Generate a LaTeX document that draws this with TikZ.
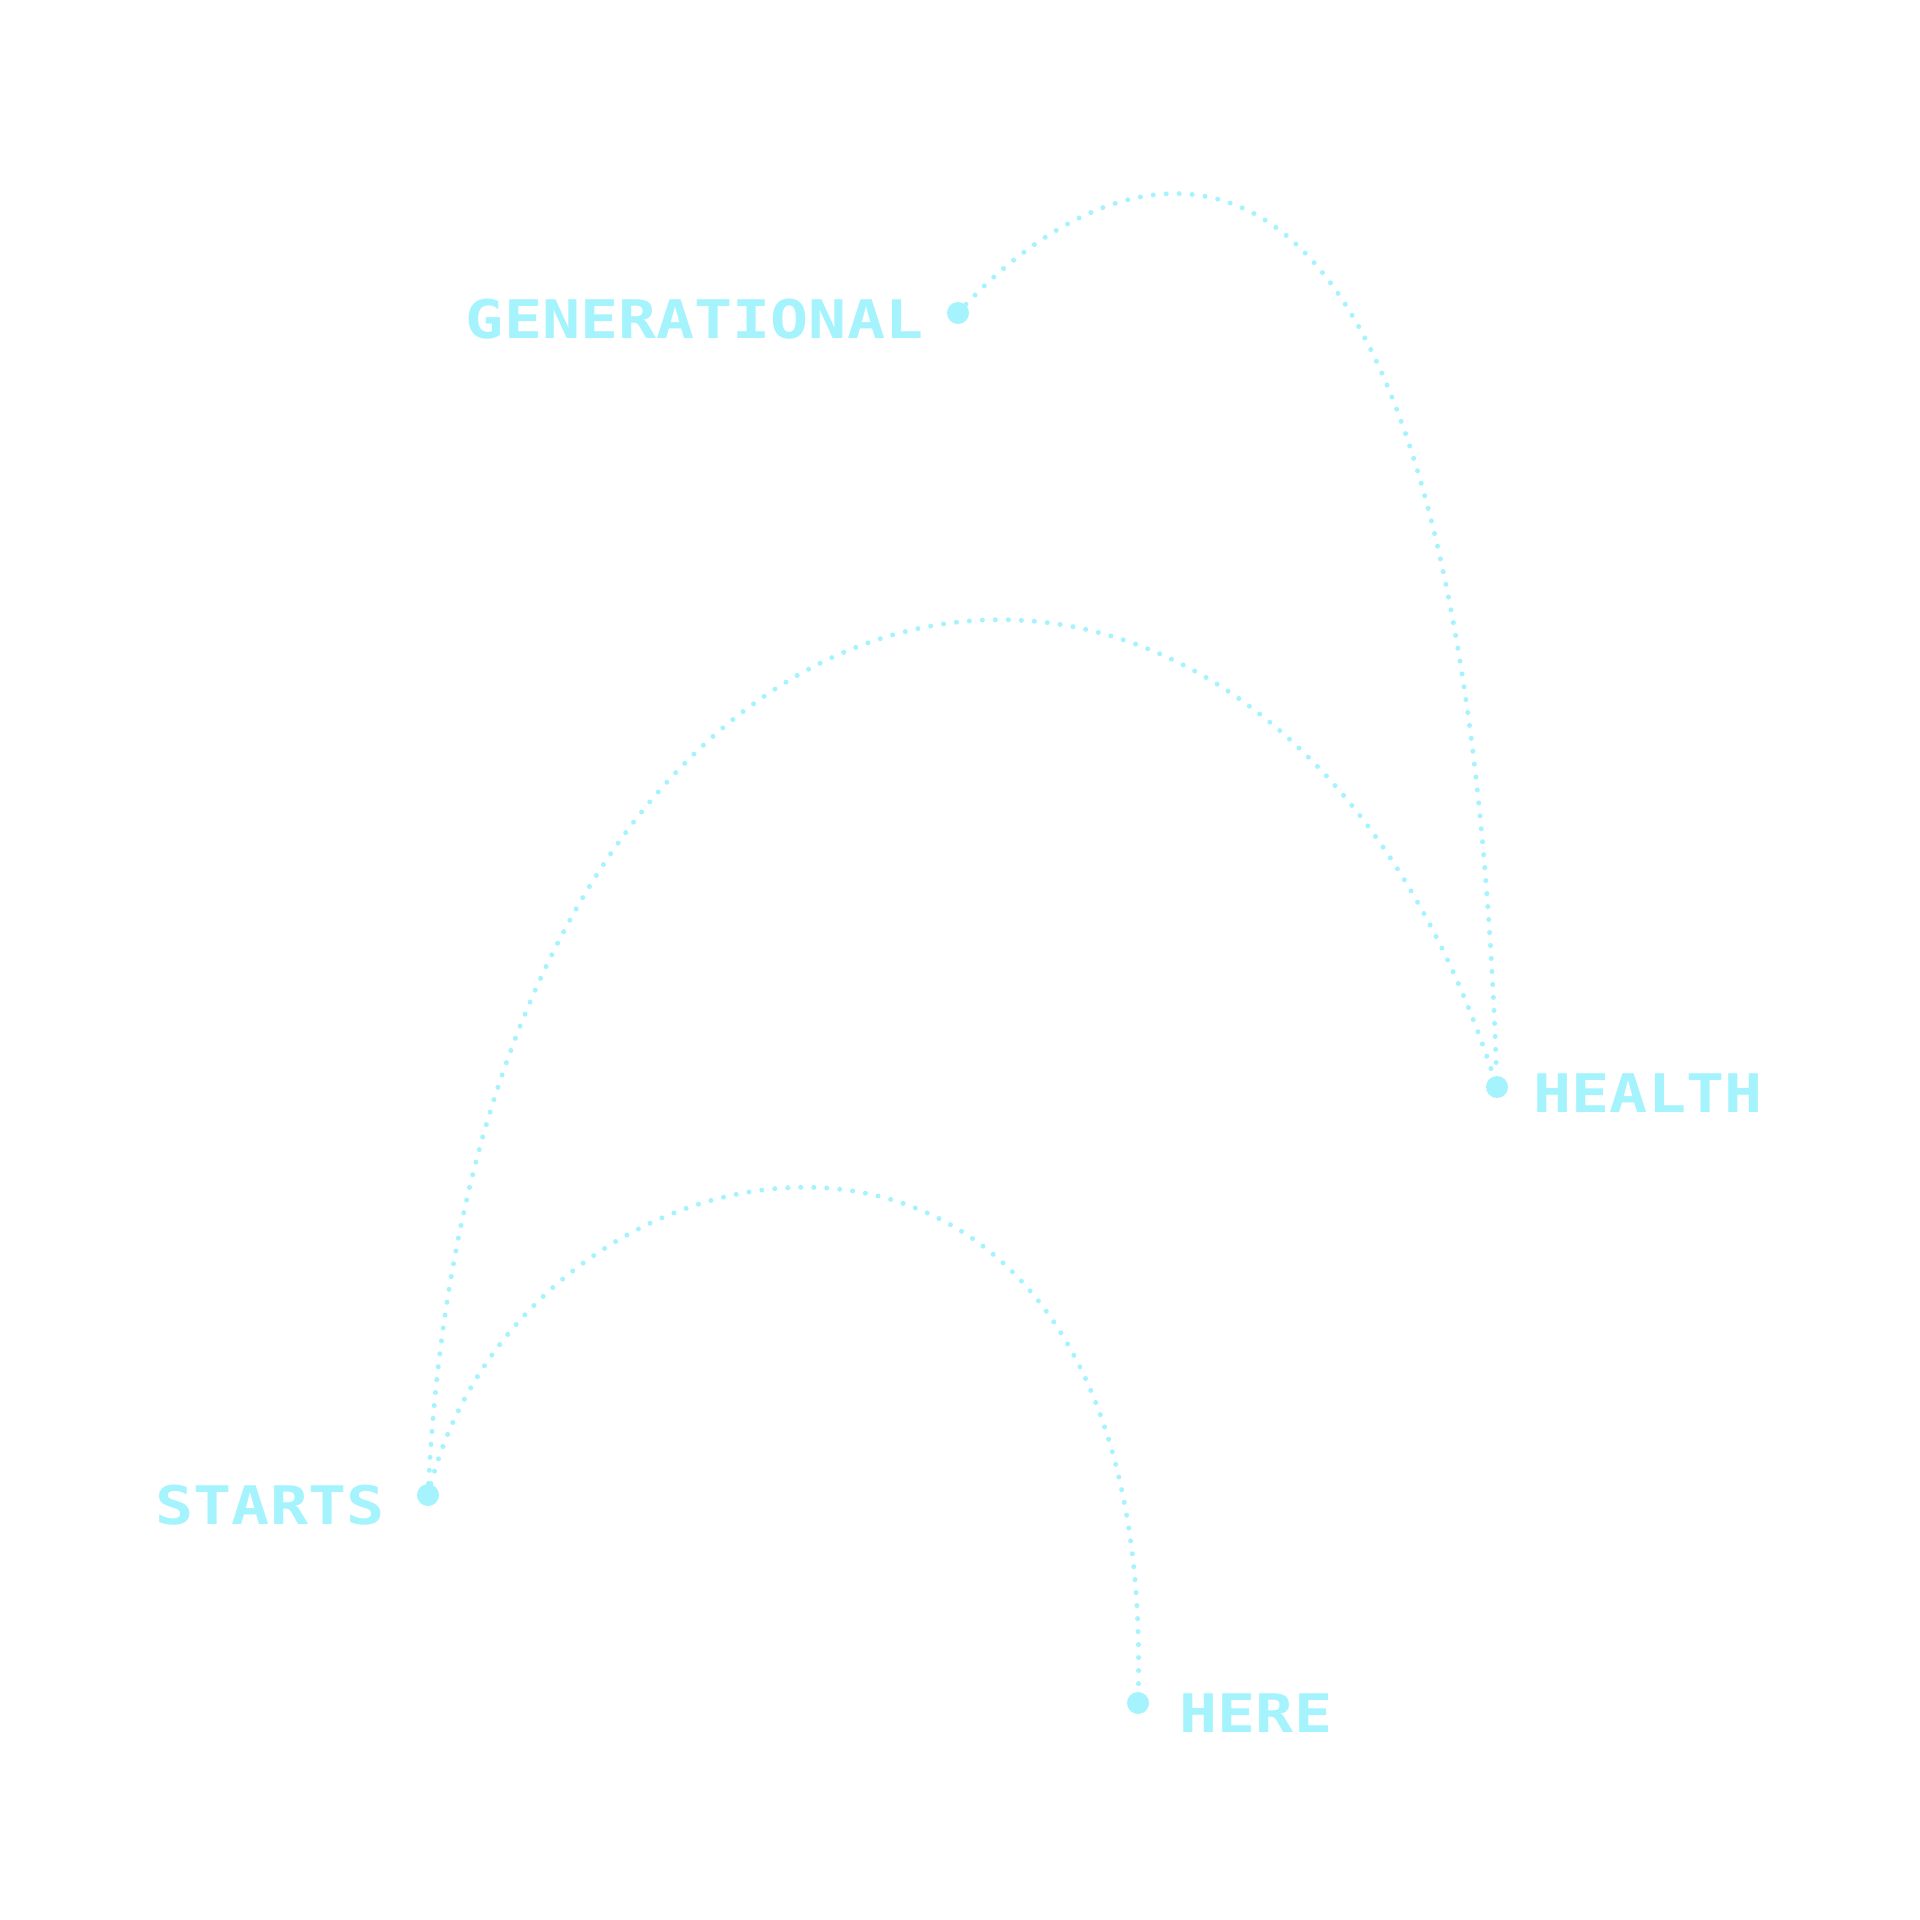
\documentclass[tikz,border=0pt]{standalone}
\usepackage{fontspec}
\usepackage{graphicx}
\newfontfamily\lblfont{DejaVu Sans Mono}
\definecolor{cy}{HTML}{A5F3FC}
\tikzset{
  dotnode/.style={circle,fill=cy,draw=none,minimum size=0.22cm,inner sep=0pt},
  lbl/.style={inner sep=0pt,text=cy,font=\lblfont\bfseries\fontsize{18pt}{20pt}\selectfont},
  arc/.style={draw=cy,line width=0.05cm,line cap=round,dash pattern=on 0pt off 0.13cm}
}
\newcommand{\sq}[1]{\scalebox{1}[0.84]{#1}}
\begin{document}
\begin{tikzpicture}[x=0.01cm,y=-0.01cm]
\useasboundingbox (0,0) rectangle (1920,1920);
\node[dotnode] (g) at (958,313) {};
\node[dotnode] (h) at (1497,1087) {};
\node[dotnode] (s) at (428,1495) {};
\node[dotnode] (r) at (1138,1703) {};
\node[lbl,anchor=base east] (gl) at (924,338) {\sq{GENERATIONAL}};
\node[lbl,anchor=base west] (hl) at (1533,1112) {\sq{HEALTH}};
\node[lbl,anchor=base west] (sl) at (155,1524) {\sq{STARTS}};
\node[lbl,anchor=base west] (rl) at (1179,1732) {\sq{HERE}};
\draw[arc] (g) .. controls (1105,155) and (1460,-20) .. (h);
\draw[arc] (s) .. controls (480,480) and (1260,360) .. (h);
\draw[arc] (s) .. controls (530,1110) and (1155,1000) .. (r);
\end{tikzpicture}
\end{document}
